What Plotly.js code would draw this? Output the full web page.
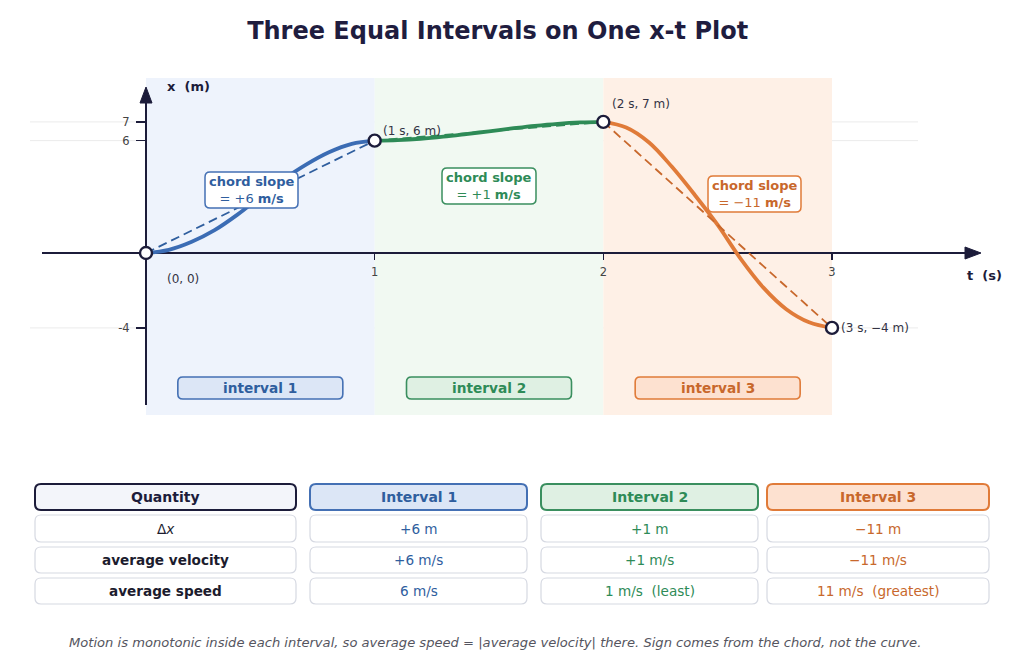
<!DOCTYPE html>
<html>
<head>
<meta charset="utf-8">
<script src="https://cdn.plot.ly/plotly-3.0.1.min.js"></script>
<style>html,body{margin:0;padding:0;background:#fff;}#chart{width:1024px;height:669px;}</style>
</head>
<body>
<div id="chart"></div>
<script>
// ---------- data ----------
const tBlue   = [0, 0.1, 0.2, 0.3, 0.4, 0.5, 0.6, 0.7, 0.8, 0.9, 1.0];
const xBlue   = [0, 0.17, 0.6, 1.22, 2.05, 3.0, 3.92, 4.72, 5.38, 5.83, 6];
const tGreen  = [1.0, 1.1, 1.2, 1.3, 1.4, 1.5, 1.6, 1.7, 1.8, 1.9, 2.0];
const xGreen  = [6, 6.03, 6.1, 6.21, 6.35, 6.5, 6.65, 6.79, 6.9, 6.97, 7];
const tOrange = [2.0, 2.1, 2.2, 2.3, 2.4, 2.5, 2.6, 2.7, 2.8, 2.9, 3.0];
const xOrange = [7, 6.7, 5.9, 4.6, 3.1, 1.5, -0.3, -1.85, -3.0, -3.7, -4];
const tEnds   = [0, 1, 2, 3];
const xEnds   = [0, 6, 7, -4];
const endLabels = ['(0, 0)', '(1 s, 6 m)', '(2 s, 7 m)', '(3 s, \u22124 m)'];
const slopeText = ['+6', '+1', '\u221211'];
const intervalNames = ['interval 1', 'interval 2', 'interval 3'];
const yTickVals = [7, 6, -4];
const yTickText = ['7', '6', '-4'];
const xTickVals = [1, 2, 3];

const headers   = ['Quantity', 'Interval 1', 'Interval 2', 'Interval 3'];
const rowLabels = ['\u0394<i>x</i>', '<b>average velocity</b>', '<b>average speed</b>'];
const dxVals    = ['+6 m', '+1 m', '\u221211 m'];
const velVals   = ['+6 m/s', '+1 m/s', '\u221211 m/s'];
const speedVals = ['6 m/s', '1 m/s \u00a0(least)', '11 m/s \u00a0(greatest)'];
const footnote  = 'Motion is monotonic inside each interval, so average speed = |average velocity| there. Sign comes from the chord, not the curve.';

// ---------- styling ----------
const FONT = 'DejaVu Sans, Verdana, sans-serif';
const NAVY = '#1c1c3a';
const C = {
  blue:   {line:'#3b6cb4', text:'#2f5e9e', shade:'#eef3fc', fill:'#dce6f6', border:'#4470b4'},
  green:  {line:'#2e8b57', text:'#2e8b57', shade:'#f1f9f2', fill:'#dff0e3', border:'#3a8f5f'},
  orange: {line:'#e07b39', text:'#c8682c', shade:'#fef0e6', fill:'#fde1d0', border:'#e07b39'}
};
const cols = [C.blue, C.green, C.orange];
const curvesT = [tBlue, tGreen, tOrange];
const curvesX = [xBlue, xGreen, xOrange];

// pixel <-> coordinate helpers (margins are 0, so paper = page)
const W = 1024, H = 669;
const X0 = 146, XPU = (832 - 146) / 3;
const Y0 = 253, YPU = (328 - 122) / 11;
const DX = px => (px - X0) / XPU;
const DY = py => (Y0 - py) / YPU;
const PX = px => px / W;
const PY = py => 1 - py / H;

function rrPath(l, r, b, t, rx, ry) {
  return `M ${l+rx},${t} L ${r-rx},${t} Q ${r},${t} ${r},${t-ry} L ${r},${b+ry} Q ${r},${b} ${r-rx},${b} ` +
         `L ${l+rx},${b} Q ${l},${b} ${l},${b+ry} L ${l},${t-ry} Q ${l},${t} ${l+rx},${t} Z`;
}
function dataBox(pxL, pxR, pyT, pyB, fill, line, lw, layer) {
  return {type:'path', xref:'x', yref:'y', layer: layer || 'above',
    path: rrPath(DX(pxL), DX(pxR), DY(pyB), DY(pyT), 5 / XPU, 5 / YPU),
    fillcolor: fill, line:{color: line, width: lw}};
}
function paperBox(pxL, pxR, pyT, pyB, fill, line, lw) {
  return {type:'path', xref:'paper', yref:'paper', layer:'above',
    path: rrPath(PX(pxL), PX(pxR), PY(pyB), PY(pyT), 6 / W, 6 / H),
    fillcolor: fill, line:{color: line, width: lw}};
}

const traces = [];
const shapes = [];
const annotations = [];

// gridlines
yTickVals.forEach(v => shapes.push({type:'line', xref:'x', yref:'y', layer:'below',
  x0: DX(30), x1: DX(918), y0: v, y1: v, line:{color:'#ebebeb', width:1}}));
// interval shading
for (let i = 0; i < 3; i++) {
  shapes.push({type:'rect', xref:'x', yref:'y', layer:'below',
    x0: tEnds[i], x1: tEnds[i+1], y0: DY(415), y1: DY(78),
    fillcolor: cols[i].shade, line:{width:0}});
}
// axes lines + arrowheads
shapes.push({type:'line', xref:'x', yref:'y', layer:'below', x0: DX(42), x1: DX(968), y0: 0, y1: 0, line:{color:NAVY, width:2}});
shapes.push({type:'line', xref:'x', yref:'y', layer:'below', x0: 0, x1: 0, y0: DY(405), y1: DY(100), line:{color:NAVY, width:2}});
shapes.push({type:'path', xref:'x', yref:'y', layer:'below',
  path:`M ${DX(981)},0 L ${DX(965)},${DY(247)} L ${DX(965)},${DY(259)} Z`, fillcolor:NAVY, line:{color:NAVY, width:1}});
shapes.push({type:'path', xref:'x', yref:'y', layer:'below',
  path:`M 0,${DY(87)} L ${DX(140)},${DY(103)} L ${DX(152)},${DY(103)} Z`, fillcolor:NAVY, line:{color:NAVY, width:1}});

// curves and chords
for (let i = 0; i < 3; i++) {
  traces.push({type:'scatter', mode:'lines', x: curvesT[i], y: curvesX[i],
    line:{color: cols[i].line, width:3.8, shape:'spline', smoothing:1}, hoverinfo:'skip', cliponaxis:false});
  traces.push({type:'scatter', mode:'lines', x: [tEnds[i], tEnds[i+1]], y: [xEnds[i], xEnds[i+1]],
    line:{color: cols[i].text, width:1.8, dash:'9px,5px'}, hoverinfo:'skip'});
}
traces.push({type:'scatter', mode:'markers', x: tEnds, y: xEnds, cliponaxis:false,
  marker:{size:12, color:'#ffffff', line:{color:NAVY, width:2.4}}, hoverinfo:'skip'});

// endpoint labels
const lblPos = [
  {x: DX(183), y: DY(279), xa:'center'},
  {x: DX(381), y: DY(131), xa:'left'},
  {x: DX(610), y: DY(104), xa:'left'},
  {x: DX(839), y: DY(328), xa:'left'}
];
endLabels.forEach((t, i) => annotations.push({xref:'x', yref:'y', x: lblPos[i].x, y: lblPos[i].y,
  xanchor: lblPos[i].xa, yanchor:'middle', text: t, showarrow:false,
  font:{family:FONT, size:12, color:'#333344'}}));

// axis titles
annotations.push({xref:'x', yref:'y', x: DX(165), y: DY(86), xanchor:'left', yanchor:'middle',
  text:'<b>x \u00a0(m)</b>', showarrow:false, font:{family:FONT, size:13, color:NAVY}});
annotations.push({xref:'x', yref:'y', x: DX(965), y: DY(275), xanchor:'left', yanchor:'middle',
  text:'<b>t \u00a0(s)</b>', showarrow:false, font:{family:FONT, size:13, color:NAVY}});

// chord slope boxes
const slopeBoxes = [[205, 298, 172, 208], [442, 536, 168, 204], [708, 801, 176, 212]];
for (let i = 0; i < 3; i++) {
  const b = slopeBoxes[i];
  shapes.push(dataBox(b[0], b[1], b[2], b[3], '#ffffff', cols[i].border, 1.5));
  annotations.push({xref:'x', yref:'y', x: DX((b[0]+b[1])/2), y: DY((b[2]+b[3])/2),
    xanchor:'center', yanchor:'middle', showarrow:false, align:'center',
    text:`<b>chord slope</b><br>= ${slopeText[i]} <b>m/s</b>`,
    font:{family:FONT, size:13, color: cols[i].text}});
}
// interval label boxes
for (let i = 0; i < 3; i++) {
  const cx = X0 + (tEnds[i] + 0.5) * XPU;
  shapes.push(dataBox(cx - 82.5, cx + 82.5, 377, 399, cols[i].fill, cols[i].border, 1.6));
  annotations.push({xref:'x', yref:'y', x: tEnds[i] + 0.5, y: DY(388), xanchor:'center', yanchor:'middle',
    showarrow:false, text:`<b>${intervalNames[i]}</b>`, font:{family:FONT, size:13.7, color: cols[i].text}});
}

// ---------- table ----------
const colPx = [[35, 296], [310, 527], [541, 758], [767, 989]];
const rowPx = [[484, 510], [515, 542], [547, 573], [578, 604]];
const headStyle = [
  {fill:'#f3f5fa', border:NAVY, text:NAVY},
  {fill:C.blue.fill, border:C.blue.border, text:C.blue.text},
  {fill:C.green.fill, border:C.green.border, text:C.green.text},
  {fill:C.orange.fill, border:C.orange.border, text:C.orange.text}
];
const body = [rowLabels, [dxVals[0], velVals[0], speedVals[0]], [dxVals[1], velVals[1], speedVals[1]], [dxVals[2], velVals[2], speedVals[2]]];
for (let c = 0; c < 4; c++) {
  const [l, r] = colPx[c];
  shapes.push(paperBox(l, r, rowPx[0][0], rowPx[0][1], headStyle[c].fill, headStyle[c].border, 2));
  annotations.push({xref:'paper', yref:'paper', x: PX((l+r)/2), y: PY((rowPx[0][0]+rowPx[0][1])/2),
    xanchor:'center', yanchor:'middle', showarrow:false, text:`<b>${headers[c]}</b>`,
    font:{family:FONT, size:14, color: headStyle[c].text}});
  for (let rI = 1; rI < 4; rI++) {
    shapes.push(paperBox(l, r, rowPx[rI][0], rowPx[rI][1], '#ffffff', '#d6d9e2', 1.2));
    annotations.push({xref:'paper', yref:'paper', x: PX((l+r)/2), y: PY((rowPx[rI][0]+rowPx[rI][1])/2),
      xanchor:'center', yanchor:'middle', showarrow:false, text: body[c][rI-1],
      font:{family:FONT, size:13.6, color: c === 0 ? '#1c1c2e' : headStyle[c].text}});
  }
}
annotations.push({xref:'paper', yref:'paper', x: PX(495), y: PY(642), xanchor:'center', yanchor:'middle',
  showarrow:false, text:`<i>${footnote}</i>`, font:{family:FONT, size:13.1, color:'#555560'}});

const layout = {
  width: W, height: H,
  margin:{l:0, r:0, t:0, b:0, pad:0},
  paper_bgcolor:'#ffffff', plot_bgcolor:'rgba(0,0,0,0)',
  showlegend:false,
  title:{text:'<b>Three Equal Intervals on One x-t Plot</b>', x:0.486, xanchor:'center',
    y: 1 - 31 / H, yref:'container', yanchor:'middle', font:{family:FONT, size:24, color:'#1f1d3f'}},
  xaxis:{range:[DX(0), DX(W)], domain:[0, 1], anchor:'free', position: 1 - Y0 / H,
    tickvals: xTickVals, ticktext: xTickVals.map(String), ticks:'outside', ticklen:6, tickwidth:1.3, tickcolor:NAVY,
    showgrid:false, zeroline:false, showline:false, fixedrange:true, automargin:false, ticklabelstandoff:2,
    tickfont:{family:FONT, size:11.5, color:'#444444'}},
  yaxis:{range:[DY(H), DY(0)], domain:[0, 1], anchor:'free', position: X0 / W,
    tickvals: yTickVals, ticktext: yTickText, ticks:'outside', ticklen:10, tickwidth:1.3, tickcolor:NAVY,
    showgrid:false, zeroline:false, showline:false, fixedrange:true, automargin:false, ticklabelstandoff:4,
    tickfont:{family:FONT, size:11.5, color:'#444444'}},
  shapes, annotations,
  font:{family:FONT}
};
Plotly.newPlot('chart', traces, layout, {displayModeBar:false, staticPlot:true});
</script>
</body>
</html>
